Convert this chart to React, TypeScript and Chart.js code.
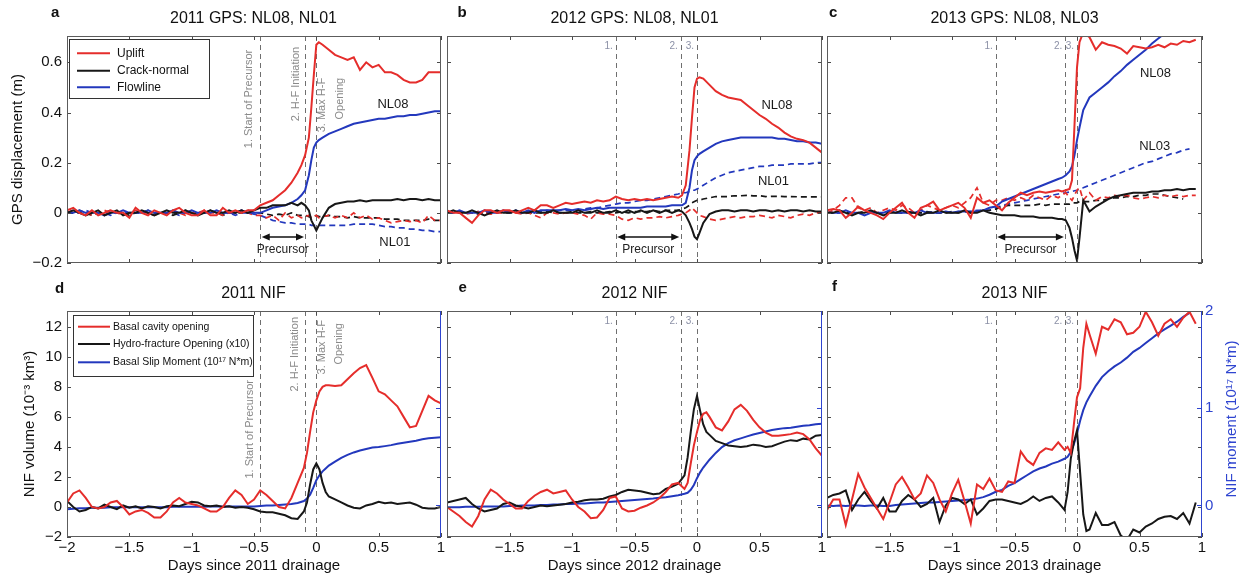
import React, { useEffect, useRef } from 'react';
import { Chart, registerables } from 'chart.js';

Chart.register(...registerables);

const FONT = '"Liberation Sans", Arial, Helvetica, sans-serif';
Chart.defaults.font.family = FONT;

const RED = '#e52d2b';
const BLACK = '#171717';
const BLUE = '#2338bd';
const AXIS_BLUE = '#2f45d0';
const EVENT_GRAY = '#6f6f6f';
const TAG_GRAY = '#8b90a6';
const NOTE_GRAY = '#8a8a8a';
const FRAME = '#5c5c5c';

// ---------- ticks ----------
const X_TICKS = [-2, -1.5, -1, -0.5, 0, 0.5, 1];
const X_LABELS = ['−2', '−1.5', '−1', '−0.5', '0', '0.5', '1'];
const X_LABELS_NO_FIRST = ['', '−1.5', '−1', '−0.5', '0', '0.5', '1'];
const Y_TICKS_GPS = [-0.2, 0, 0.2, 0.4, 0.6];
const Y_LABELS_GPS = ['−0.2', '0', '0.2', '0.4', '0.6'];
const Y_TICKS_NIF = [-2, 0, 2, 4, 6, 8, 10, 12];
const Y_LABELS_NIF = ['−2', '0', '2', '4', '6', '8', '10', '12'];
const Y2_TICKS = [0, 1, 2];
const Y2_LABELS = ['0', '1', '2'];

// ---------- event times (days) ----------
const EVENTS_2011 = [-0.45, -0.087, 0];
const EVENTS_2012 = [-0.65, -0.13, 0];
const EVENTS_2013 = [-0.65, -0.093, 0];
const EVENT_TAGS = ['1.', '2.', '3.'];

// ---------- time grids ----------
const T_GPS = [
  -2, -1.95, -1.9, -1.85, -1.8, -1.75, -1.7, -1.65, -1.6, -1.55,
  -1.5, -1.45, -1.4, -1.35, -1.3, -1.25, -1.2, -1.15, -1.1, -1.05,
  -1, -0.95, -0.9, -0.85, -0.8, -0.75, -0.7, -0.65, -0.6, -0.55, -0.5,
  -0.45, -0.4, -0.35, -0.3, -0.25, -0.2, -0.15,
  -0.12, -0.09, -0.06, -0.04, -0.02, 0,
  0.02, 0.05, 0.1,
  0.15, 0.2, 0.25, 0.3, 0.35, 0.4, 0.45, 0.5, 0.55, 0.6, 0.65, 0.7, 0.75, 0.8, 0.85, 0.9, 0.95, 1,
];
const T_NIF = [
  -2, -1.95, -1.9, -1.85, -1.8, -1.75, -1.7, -1.65, -1.6, -1.55,
  -1.5, -1.45, -1.4, -1.35, -1.3, -1.25, -1.2, -1.15, -1.1, -1.05,
  -1, -0.95, -0.9, -0.85, -0.8, -0.75, -0.7, -0.65, -0.6, -0.55, -0.5,
  -0.45, -0.4, -0.35, -0.3, -0.25, -0.2, -0.15, -0.1,
  -0.075, -0.05, -0.025, 0, 0.025, 0.05, 0.075, 0.1,
  0.15, 0.2, 0.25, 0.3, 0.35, 0.4, 0.45, 0.5, 0.55, 0.6, 0.65, 0.7, 0.75, 0.8, 0.85, 0.9, 0.95, 1,
];

// ---------- 2011 GPS (m) ----------
const A_UPLIFT_NL08 = [
  0.01, 0.02, 0.0, -0.01, 0.01, -0.01, 0.0, 0.01, 0.0, 0.0,
  -0.02, 0.02, 0.0, -0.01, 0.01, 0.0, -0.01, 0.01, 0.02, 0.0,
  -0.01, -0.01, 0.01, -0.01, -0.01, 0.02, 0.0, 0.01, 0.0, 0.01, 0.01,
  0.03, 0.04, 0.05, 0.07, 0.09, 0.12, 0.16,
  0.19, 0.23, 0.3, 0.42, 0.55, 0.67,
  0.68, 0.67, 0.65,
  0.63, 0.62, 0.61, 0.62, 0.57, 0.6, 0.58, 0.59, 0.56, 0.56, 0.55, 0.53, 0.52, 0.52, 0.53, 0.56, 0.56, 0.56,
];
const A_CRACK_NL08 = [
  0.0, 0.01, 0.0, -0.01, 0.0, 0.01, -0.01, 0.0, 0.01, -0.01,
  0.0, 0.0, 0.01, 0.0, -0.01, 0.0, 0.01, 0.0, 0.0, 0.01,
  0.0, -0.01, 0.0, 0.01, 0.0, 0.0, 0.01, 0.0, 0.01, 0.0, 0.01,
  0.02, 0.02, 0.03, 0.03, 0.03, 0.04, 0.03,
  0.04, 0.03, 0.01, -0.03, -0.05, -0.07,
  -0.05, -0.02, 0.02,
  0.035, 0.04, 0.045, 0.045, 0.05, 0.045, 0.05, 0.05, 0.05, 0.05, 0.055, 0.05, 0.055, 0.055, 0.05, 0.055, 0.05, 0.05,
];
const A_FLOW_NL08 = [
  0.0, 0.0, 0.01, 0.0, 0.0, 0.0, -0.01, 0.0, 0.0, 0.01,
  0.0, 0.0, 0.0, 0.01, 0.0, 0.0, 0.0, 0.01, 0.0, 0.0,
  0.01, 0.0, 0.0, 0.0, 0.01, 0.0, 0.0, 0.0, 0.01, 0.0, 0.0,
  0.0, 0.01, 0.02, 0.025, 0.03, 0.04, 0.055,
  0.07, 0.09, 0.15, 0.21, 0.26, 0.28,
  0.29, 0.3, 0.315,
  0.325, 0.335, 0.345, 0.355, 0.36, 0.365, 0.37, 0.375, 0.375, 0.38, 0.385, 0.385, 0.39, 0.39, 0.395, 0.4, 0.405, 0.405,
];
const A_UPLIFT_NL01 = [
  0.0, 0.01, 0.0, 0.0, -0.01, 0.0, 0.01, 0.0, 0.0, -0.01,
  0.0, 0.01, 0.0, 0.0, -0.01, 0.0, 0.0, 0.01, 0.0, -0.01,
  0.0, 0.0, 0.01, 0.0, 0.0, -0.01, 0.0, 0.0, 0.01, 0.0, -0.01,
  -0.01, -0.02, -0.01, -0.03, 0.0, -0.02, -0.01,
  -0.02, -0.015, -0.01, -0.02, -0.015, -0.01,
  -0.02, -0.015, -0.01,
  -0.02, -0.01, -0.02, 0.0, -0.02, -0.01, -0.025, -0.02, -0.03, -0.04, -0.035, -0.03, -0.035, -0.03, -0.04, -0.01, -0.03, -0.03,
];
const A_CRACK_NL01 = [
  0.0, 0.0, 0.01, 0.0, -0.01, 0.0, 0.0, 0.01, 0.0, 0.0,
  -0.01, 0.0, 0.0, 0.01, 0.0, 0.0, 0.0, -0.01, 0.0, 0.01,
  0.0, 0.0, 0.0, 0.01, 0.0, -0.01, 0.0, 0.0, 0.0, 0.01, 0.0,
  0.0, -0.005, -0.01, -0.005, -0.01, 0.0, -0.01,
  -0.01, -0.01, -0.015, -0.02, -0.015, -0.01,
  -0.015, -0.015, -0.01,
  -0.015, -0.015, -0.02, -0.015, -0.02, -0.02, -0.02, -0.02, -0.025, -0.025, -0.025, -0.03, -0.03, -0.03, -0.03, -0.025, -0.03, -0.03,
];
const A_FLOW_NL01 = [
  0.0, 0.0, 0.0, 0.01, 0.0, 0.0, 0.0, -0.01, 0.0, 0.0,
  0.0, 0.0, 0.01, 0.0, 0.0, 0.0, 0.0, 0.0, -0.01, 0.0,
  0.0, 0.0, 0.0, 0.01, 0.0, 0.0, 0.0, -0.01, 0.0, 0.0, -0.005,
  -0.01, -0.02, -0.03, -0.035, -0.04, -0.04, -0.045,
  -0.045, -0.045, -0.045, -0.05, -0.05, -0.05,
  -0.05, -0.05, -0.05,
  -0.05, -0.05, -0.05, -0.045, -0.045, -0.045, -0.045, -0.05, -0.055, -0.055, -0.06, -0.06, -0.065, -0.065, -0.07, -0.07, -0.075, -0.075,
];

// ---------- 2012 GPS (m) ----------
const B_UPLIFT_NL08 = [
  0.01, 0.0, 0.0, -0.02, -0.04, -0.01, 0.01, 0.01, 0.0, 0.01,
  0.01, 0.0, 0.01, 0.02, 0.01, 0.03, 0.03, 0.02, 0.03, 0.04,
  0.035, 0.04, 0.045, 0.04, 0.05, 0.045, 0.05, 0.065, 0.055, 0.05, 0.055,
  0.05, 0.055, 0.05, 0.055, 0.06, 0.065, 0.06,
  0.07, 0.11, 0.25, 0.38, 0.5, 0.535,
  0.54, 0.535, 0.51,
  0.485, 0.47, 0.46, 0.455, 0.45, 0.43, 0.41, 0.39, 0.375, 0.355, 0.34, 0.32, 0.305, 0.295, 0.29, 0.28, 0.26, 0.24,
];
const B_CRACK_NL08 = [
  0.0, 0.01, 0.0, 0.0, 0.01, 0.0, -0.01, 0.0, 0.01, 0.0,
  0.0, 0.01, 0.0, 0.0, 0.01, 0.0, 0.0, 0.01, 0.0, 0.0,
  0.0, 0.01, 0.0, 0.0, 0.01, 0.0, 0.0, 0.01, 0.0, 0.01, 0.0,
  0.01, 0.0, 0.01, 0.0, 0.01, 0.0, 0.01,
  0.005, -0.01, -0.04, -0.065, -0.095, -0.105,
  -0.08, -0.04, -0.005,
  0.005, 0.01, 0.01, 0.005, 0.01, 0.01, 0.005, 0.01, 0.01, 0.005, 0.01, 0.005, 0.01, 0.01, 0.005, 0.01, 0.005, 0.005,
];
const B_FLOW_NL08 = [
  0.0, 0.0, 0.01, 0.0, 0.0, 0.0, 0.01, 0.0, 0.0, 0.01,
  0.0, 0.01, 0.0, 0.01, 0.0, 0.01, 0.01, 0.01, 0.01, 0.015,
  0.01, 0.015, 0.01, 0.015, 0.02, 0.015, 0.02, 0.02, 0.02, 0.02, 0.02,
  0.02, 0.025, 0.025, 0.025, 0.025, 0.03, 0.03,
  0.03, 0.04, 0.1, 0.17, 0.21, 0.225,
  0.235, 0.245, 0.26,
  0.275, 0.285, 0.29, 0.295, 0.3, 0.3, 0.3, 0.3, 0.3, 0.3, 0.295, 0.295, 0.29, 0.285, 0.285, 0.28, 0.28, 0.275,
];
const B_UPLIFT_NL01 = [
  0.0, 0.005, 0.0, -0.005, 0.0, 0.005, 0.0, -0.005, 0.0, 0.0,
  0.005, 0.0, -0.005, 0.0, -0.01, -0.02, 0.0, 0.0, -0.005, 0.0,
  0.0, -0.005, -0.01, -0.025, 0.0, -0.005, -0.005, -0.01, -0.025, -0.03, -0.02,
  -0.025, -0.02, -0.02, -0.015, -0.02, -0.015, -0.01,
  -0.005, 0.0, 0.01, 0.02, 0.01, 0.0,
  -0.01, -0.015, -0.025,
  -0.03, -0.025, -0.02, -0.015, -0.02, -0.015, -0.015, -0.01, -0.015, -0.02, -0.01, -0.015, -0.02, -0.01, -0.005, -0.01, 0.0, 0.0,
];
const B_CRACK_NL01 = [
  0.0, 0.0, 0.005, 0.0, 0.0, -0.005, 0.0, 0.0, 0.005, 0.0,
  0.0, 0.0, 0.005, 0.0, 0.0, 0.0, 0.005, 0.0, 0.0, 0.0,
  0.005, 0.0, 0.0, 0.005, 0.0, 0.0, 0.005, 0.0, 0.005, 0.0, 0.005,
  0.005, 0.005, 0.01, 0.005, 0.01, 0.01, 0.01,
  0.015, 0.02, 0.03, 0.04, 0.045, 0.05,
  0.05, 0.055, 0.06,
  0.065, 0.065, 0.065, 0.068, 0.068, 0.07, 0.068, 0.068, 0.065, 0.066, 0.066, 0.065, 0.065, 0.064, 0.064, 0.064, 0.064, 0.064,
];
const B_FLOW_NL01 = [
  0.0, 0.0, 0.005, 0.0, 0.0, 0.005, 0.0, 0.005, 0.0, 0.005,
  0.005, 0.0, 0.005, 0.005, 0.005, 0.005, 0.01, 0.005, 0.01, 0.01,
  0.01, 0.01, 0.015, 0.02, 0.02, 0.025, 0.03, 0.035, 0.04, 0.04, 0.045,
  0.05, 0.05, 0.055, 0.06, 0.065, 0.07, 0.075,
  0.08, 0.08, 0.085, 0.09, 0.09, 0.095,
  0.1, 0.11, 0.125,
  0.14, 0.15, 0.16, 0.165, 0.17, 0.175, 0.18, 0.185, 0.185, 0.19, 0.19, 0.19, 0.195, 0.195, 0.195, 0.195, 0.2, 0.2,
];

// ---------- 2013 GPS (m) ----------
const C_UPLIFT_NL08 = [
  0.01, 0.015, 0.01, -0.02, 0.0, 0.025, 0.01, 0.0, -0.01, -0.025,
  0.0, 0.02, 0.04, 0.0, -0.02, 0.02, 0.03, 0.045, 0.01, 0.02,
  0.03, 0.04, 0.02, -0.02, 0.06, 0.04, 0.05, 0.03, 0.01, 0.04, 0.06,
  0.08, 0.07, 0.08, 0.085, 0.08, 0.085, 0.09,
  0.085, 0.09, 0.095, 0.13, 0.35, 0.58,
  0.68, 0.72, 0.7,
  0.65, 0.68, 0.67, 0.665, 0.655, 0.635, 0.665, 0.66, 0.655, 0.66, 0.67, 0.66, 0.675, 0.67, 0.685, 0.68, 0.69, null,
];
const C_CRACK_NL08 = [
  0.0, 0.0, 0.01, 0.0, -0.01, 0.0, 0.0, 0.01, 0.0, -0.01,
  0.0, 0.0, 0.01, 0.0, 0.0, -0.01, 0.0, 0.0, 0.01, 0.0,
  0.0, 0.0, 0.01, 0.0, 0.0, 0.01, 0.0, -0.005, -0.01, -0.01, -0.01,
  -0.015, -0.015, -0.015, -0.02, -0.02, -0.02, -0.025,
  -0.025, -0.03, -0.06, -0.1, -0.15, -0.19,
  -0.1, 0.05, 0.005,
  0.025, 0.04, 0.055, 0.065, 0.07, 0.075, 0.08, 0.08, 0.08, 0.085, 0.085, 0.09, 0.09, 0.095, 0.09, 0.095, 0.095, null,
];
const C_FLOW_NL08 = [
  0.0, 0.0, 0.0, 0.01, 0.0, 0.0, -0.01, 0.0, 0.0, 0.0,
  0.01, 0.0, 0.0, 0.0, 0.0, 0.01, 0.0, 0.0, 0.0, 0.005,
  0.0, 0.005, 0.005, 0.005, 0.005, 0.01, 0.02, 0.025, 0.045, 0.055, 0.065,
  0.075, 0.085, 0.095, 0.105, 0.115, 0.125, 0.135,
  0.14, 0.15, 0.165, 0.185, 0.23, 0.29,
  0.34, 0.41, 0.46,
  0.48, 0.5, 0.52, 0.545, 0.565, 0.59, 0.61, 0.63, 0.65, 0.675, 0.695, 0.715, 0.73, 0.75, null, null, null, null,
];
const C_UPLIFT_NL03 = [
  0.0, 0.01, 0.03, 0.06, 0.06, 0.02, 0.01, 0.02, 0.0, 0.01,
  0.02, 0.01, 0.03, 0.02, 0.0, 0.01, 0.03, 0.02, 0.01, 0.02,
  0.03, 0.02, 0.04, 0.06, 0.1, 0.04, 0.03, 0.05, 0.05, 0.06, 0.05,
  0.06, 0.05, 0.07, 0.06, 0.05, 0.07, 0.06,
  0.07, 0.08, 0.06, 0.05, 0.07, 0.09,
  0.1, 0.05, 0.08,
  0.05, 0.065, 0.06, 0.07, 0.065, 0.07, 0.06, 0.055, 0.06, 0.065, 0.06, 0.07, 0.065, 0.07, 0.065, 0.07, 0.07, null,
];
const C_CRACK_NL03 = [
  0.0, 0.0, 0.005, 0.0, 0.0, 0.0, 0.005, 0.0, 0.0, 0.0,
  0.005, 0.0, 0.0, 0.005, 0.0, 0.0, 0.005, 0.0, 0.0, 0.0,
  0.005, 0.0, 0.005, 0.0, 0.005, 0.01, 0.01, 0.015, 0.025, 0.03, 0.03,
  0.03, 0.03, 0.03, 0.035, 0.03, 0.035, 0.035,
  0.035, 0.035, 0.035, 0.04, 0.04, 0.04,
  0.045, 0.045, 0.045,
  0.05, 0.05, 0.055, 0.06, 0.06, 0.065, 0.065, 0.07, 0.07, 0.075, 0.075, 0.07, 0.065, 0.06, 0.055, null, null, null,
];
const C_FLOW_NL03 = [
  0.0, 0.0, 0.0, 0.005, 0.0, 0.0, 0.0, 0.005, 0.0, 0.0,
  0.0, 0.005, 0.0, 0.0, 0.005, 0.0, 0.0, 0.005, 0.0, 0.005,
  0.0, 0.005, 0.005, 0.005, 0.01, 0.01, 0.01, 0.02, 0.03, 0.035, 0.04,
  0.045, 0.05, 0.055, 0.06, 0.065, 0.07, 0.075,
  0.078, 0.08, 0.083, 0.085, 0.088, 0.09,
  0.095, 0.1, 0.11,
  0.12, 0.13, 0.14, 0.15, 0.16, 0.17, 0.18, 0.19, 0.2, 0.205, 0.215, 0.225, 0.235, 0.24, 0.25, 0.255, null, null,
];

// ---------- NIF (10^-3 km^3, HF x10) and slip moment (10^17 N m) ----------
const D_CAVITY = [
  0.3, 0.9, 1.1, 0.6, 0.0, -0.1, 0.0, 0.3, 0.4, 0.0,
  -0.5, -0.3, -0.2, -0.4, -0.7, -0.7, -0.3, 0.3, 0.6, 0.3,
  0.2, 0.1, -0.1, -0.3, -0.3, 0.0, 0.6, 1.1, 0.8, 0.2, 0.5,
  1.1, 0.8, 0.4, 0.0, -0.1, 0.6, 1.6, 2.6,
  3.6, 5.0, 6.3, 7.1, 7.7, 8.0, 8.1, 8.1,
  8.05, 8.1, 8.5, 8.9, 9.25, 9.45, 8.6, 7.7, 7.5, 7.1, 6.7, 6.0, 5.3, 5.4, 6.4, 7.4, 7.1, 6.9,
];
const D_HYDRO = [
  0.4, 0.0, -0.3, -0.2, 0.0, -0.1, 0.15, 0.0, -0.15, 0.1,
  -0.05, 0.05, -0.1, 0.05, 0.0, -0.1, 0.05, 0.1, 0.05, 0.2,
  0.35, 0.3, 0.1, 0.05, 0.1, 0.0, 0.05, -0.05, 0.0, -0.05, -0.15,
  -0.3, -0.35, -0.35, -0.45, -0.55, -0.75, -0.8, -0.3,
  0.3, 1.5, 2.5, 2.9, 2.5, 1.6, 1.0, 0.7,
  0.5, 0.3, 0.1, -0.05, -0.1, 0.1, 0.2, 0.35, 0.25, 0.3, 0.2, 0.25, 0.3, 0.15, -0.05, -0.1, -0.1, 0.0,
];
const D_MOMENT = [
  -0.04, -0.035, -0.03, -0.03, -0.025, -0.025, -0.025, -0.02, -0.02, -0.02,
  -0.02, -0.02, -0.02, -0.02, -0.02, -0.02, -0.02, -0.015, -0.015, -0.015,
  -0.015, -0.015, -0.015, -0.01, -0.01, -0.01, -0.01, -0.01, -0.01, -0.01, -0.01,
  -0.005, 0.0, 0.0, 0.005, 0.01, 0.015, 0.025, 0.045,
  0.07, 0.11, 0.18, 0.26, 0.31, 0.35, 0.38, 0.41,
  0.45, 0.49, 0.52, 0.545, 0.565, 0.58, 0.595, 0.6, 0.61, 0.62, 0.635, 0.645, 0.655, 0.665, 0.68, 0.69, 0.695, 0.7,
];
const E_CAVITY = [
  0.0, -0.3, -0.6, -1.0, -1.3, -0.6, 0.5, 1.15, 0.9, 0.5,
  0.2, -0.1, -0.1, 0.4, 0.75, 1.0, 1.15, 0.9, 1.0, 1.1,
  0.5, 0.0, -0.3, -0.75, -0.7, -0.2, 0.6, 0.7, -0.1, -0.3, -0.25,
  -0.05, 0.1, 0.3, 0.6, 1.0, 1.5, 1.6, 1.2,
  1.6, 2.9, 4.1, 5.0, 5.8, 6.2, 6.3, 6.0,
  5.3, 5.1, 5.7, 6.5, 6.8, 6.4, 5.8, 5.3, 4.95, 4.75, 4.75, 4.8, 4.85, 4.95, 4.85, 4.5, 3.9, 3.4,
];
const E_HYDRO = [
  0.3, 0.4, 0.5, 0.6, 0.2, -0.1, -0.3, -0.2, -0.1, 0.2,
  0.3, 0.1, 0.0, -0.1, 0.0, 0.1, 0.05, 0.1, 0.15, 0.2,
  0.3, 0.35, 0.45, 0.5, 0.5, 0.55, 0.7, 0.8, 1.0, 1.15, 1.1,
  1.05, 0.95, 0.85, 0.9, 1.2, 1.35, 1.55, 2.1,
  3.3, 5.0, 6.5, 7.4, 6.4, 5.5, 5.0, 4.8,
  4.4, 4.25, 4.1, 4.05, 4.0, 4.05, 4.15, 4.1, 4.0, 4.05, 4.2, 4.35, 4.45, 4.4, 4.55, 4.5, 4.75, 4.8,
];
const E_MOMENT = [
  -0.02, -0.02, -0.02, -0.015, -0.015, -0.015, -0.01, -0.01, -0.01, -0.01,
  -0.005, -0.005, 0.0, 0.0, 0.0, 0.005, 0.005, 0.01, 0.01, 0.015,
  0.015, 0.02, 0.02, 0.025, 0.03, 0.03, 0.035, 0.04, 0.045, 0.05, 0.055,
  0.06, 0.065, 0.07, 0.08, 0.085, 0.095, 0.105, 0.12,
  0.13, 0.16, 0.21, 0.28, 0.34, 0.39, 0.43, 0.47,
  0.54, 0.6, 0.64, 0.67, 0.69, 0.71, 0.73, 0.745, 0.76, 0.775, 0.785, 0.795, 0.8, 0.81, 0.82, 0.825, 0.835, 0.84,
];
const F_CAVITY = [
  -0.2, 0.5, 0.5, -1.2, 0.5, 2.2, 1.3, 0.6, -0.1, -0.8,
  0.3, 1.5, 2.0, 1.3, 0.5, 0.9, 2.1, 1.6, 0.5, -0.3,
  0.9, 1.8, 0.4, -1.1, 1.5, 1.2, 1.9, 1.1, 1.0, 1.7, 1.6,
  3.7, 3.1, 2.8, 3.6, 3.9, 3.8, 4.3, 3.8,
  4.0, 3.6, 5.5, 7.3, 7.9, 10.6, 12.2, 11.5,
  10.2, 12.0, 11.8, 12.5, 12.3, 11.5, 11.6, 12.0, 13.0, 12.3, 11.4, 12.2, 12.5, 12.0, 12.6, 13.0, 12.2, null,
];
const F_HYDRO = [
  0.6, 0.8, 0.9, 1.1, -0.2, 0.5, 1.0, 0.4, -0.1, 0.6,
  -0.3, -0.3, 0.4, 0.8, 0.5, 0.0, 0.2, 0.6, -1.0, 0.1,
  0.6, 0.5, 0.2, 0.5, -0.5, -0.1, 0.4, 0.5, 0.5, 0.4, 0.3,
  0.2, 0.4, 0.7, 0.4, 0.6, 0.7, 0.3, -0.2,
  1.0, 3.2, 4.3, 5.1, 2.3, -0.5, -1.6, -1.5,
  -0.4, -1.2, -1.2, -1.0, -1.9, -2.2, -1.5, -1.7, -1.3, -1.1, -0.8, -0.65, -0.6, -0.8, -0.4, -1.1, 0.3, null,
];
const F_MOMENT = [
  0.0, -0.005, 0.0, -0.005, 0.0, 0.0, -0.005, 0.0, 0.0, -0.005,
  -0.005, 0.005, 0.01, 0.015, 0.02, 0.025, 0.03, 0.03, 0.035, 0.04,
  0.045, 0.05, 0.055, 0.06, 0.07, 0.085, 0.11, 0.14, 0.16, 0.2, 0.23,
  0.27, 0.31, 0.35, 0.38, 0.4, 0.43, 0.45, 0.48,
  0.5, 0.55, 0.63, 0.74, 0.87, 0.98, 1.06, 1.12,
  1.23, 1.32, 1.38, 1.43, 1.47, 1.52, 1.58, 1.62, 1.67, 1.72, 1.77, 1.81, 1.85, 1.89, 1.94, 1.98, null, null,
];

// ---------- panel definitions ----------
const gpsSeries = (u: any, c: any, f: any, u2: any, c2: any, f2: any, st: string) => [
  { label: 'Uplift', ys: u, color: RED },
  { label: 'Crack-normal', ys: c, color: BLACK },
  { label: 'Flowline', ys: f, color: BLUE },
  { label: 'Uplift ' + st, ys: u2, color: RED, dashed: true },
  { label: 'Crack-normal ' + st, ys: c2, color: BLACK, dashed: true },
  { label: 'Flowline ' + st, ys: f2, color: BLUE, dashed: true },
];
const nifSeries = (cav: any, hf: any, mom: any) => [
  { label: 'Basal cavity opening', ys: cav, color: RED },
  { label: 'Hydro-fracture Opening (x10)', ys: hf, color: BLACK },
  { label: 'Basal Slip Moment (10¹⁷ N*m)', ys: mom, color: BLUE, axis: 'y2' },
];

const PRECURSOR = { arrowY: -0.096, textY: -0.146 };
const NIF_Y2 = { min: -0.325, max: 2.0, ticks: Y2_TICKS, labels: null as any };

const PANELS: any[] = [
  {
    key: 'a', area: [67, 36, 441, 263], pad: [67, 36, 20, 20], xs: T_GPS,
    series: gpsSeries(A_UPLIFT_NL08, A_CRACK_NL08, A_FLOW_NL08, A_UPLIFT_NL01, A_CRACK_NL01, A_FLOW_NL01, 'NL01'),
    yMin: -0.2, yMax: 0.705, yTicks: Y_TICKS_GPS, yLabels: Y_LABELS_GPS,
    yTitle: 'GPS displacement (m)', yTitlePad: 9, xLabels: null,
    events: EVENTS_2011, eventTags: null, precursor: PRECURSOR,
    notes: [
      { x: -0.54, y: 0.65, text: '1. Start of Precursor', size: 11, color: NOTE_GRAY, rot: true },
      { x: -0.165, y: 0.662, text: '2. H-F Initiation', size: 11, color: NOTE_GRAY, rot: true },
      { x: 0.043, y: 0.538, text: '3. Max H-F', size: 11, color: NOTE_GRAY, rot: true },
      { x: 0.19, y: 0.538, text: 'Opening', size: 11, color: NOTE_GRAY, rot: true },
      { x: 0.615, y: 0.431, text: 'NL08', size: 13, color: '#1a1a1a' },
      { x: 0.63, y: -0.118, text: 'NL01', size: 13, color: '#1a1a1a' },
    ],
    legend: { items: [0, 1, 2], box: [2, 3, 140, 59], rows: [17.3, 34.7, 51.3], lineX: [10, 43], textX: 50, size: 12 },
  },
  {
    key: 'b', area: [447, 36, 822, 263], pad: [20, 36, 20, 20], xs: T_GPS,
    series: gpsSeries(B_UPLIFT_NL08, B_CRACK_NL08, B_FLOW_NL08, B_UPLIFT_NL01, B_CRACK_NL01, B_FLOW_NL01, 'NL01'),
    yMin: -0.2, yMax: 0.705, yTicks: Y_TICKS_GPS, yLabels: null, xLabels: null,
    events: EVENTS_2012, eventTags: EVENT_TAGS, precursor: PRECURSOR,
    notes: [
      { x: 0.64, y: 0.428, text: 'NL08', size: 13, color: '#1a1a1a' },
      { x: 0.612, y: 0.126, text: 'NL01', size: 13, color: '#1a1a1a' },
    ],
  },
  {
    key: 'c', area: [827, 36, 1202, 263], pad: [20, 36, 41, 20], xs: T_GPS,
    series: gpsSeries(C_UPLIFT_NL08, C_CRACK_NL08, C_FLOW_NL08, C_UPLIFT_NL03, C_CRACK_NL03, C_FLOW_NL03, 'NL03'),
    yMin: -0.2, yMax: 0.705, yTicks: Y_TICKS_GPS, yLabels: null, xLabels: null,
    events: EVENTS_2013, eventTags: EVENT_TAGS, precursor: PRECURSOR,
    notes: [
      { x: 0.628, y: 0.555, text: 'NL08', size: 13, color: '#1a1a1a' },
      { x: 0.622, y: 0.265, text: 'NL03', size: 13, color: '#1a1a1a' },
    ],
  },
  {
    key: 'd', area: [67, 311, 441, 537], pad: [67, 38, 20, 42], xs: T_NIF,
    series: nifSeries(D_CAVITY, D_HYDRO, D_MOMENT),
    yMin: -2, yMax: 13.05, yTicks: Y_TICKS_NIF, yLabels: Y_LABELS_NIF,
    yTitle: 'NIF volume (10⁻³ km³)', yTitlePad: 21,
    y2: NIF_Y2, rightFrame: AXIS_BLUE,
    xLabels: X_LABELS, xTitle: 'Days since 2011 drainage',
    events: EVENTS_2011, eventTags: null,
    notes: [
      { x: -0.535, y: 8.45, text: '1. Start of Precursor', size: 11, color: NOTE_GRAY, rot: true },
      { x: -0.17, y: 12.65, text: '2. H-F Initiation', size: 11, color: NOTE_GRAY, rot: true },
      { x: 0.043, y: 12.45, text: '3. Max H-F', size: 11, color: NOTE_GRAY, rot: true },
      { x: 0.184, y: 12.25, text: 'Opening', size: 11, color: NOTE_GRAY, rot: true },
    ],
    legend: { items: [0, 1, 2], box: [6, 4, 180, 61], rows: [15.7, 33, 51.3], lineX: [11, 43], textX: 46, size: 10.5 },
  },
  {
    key: 'e', area: [447, 311, 822, 537], pad: [20, 38, 20, 42], xs: T_NIF,
    series: nifSeries(E_CAVITY, E_HYDRO, E_MOMENT),
    yMin: -2, yMax: 13.05, yTicks: Y_TICKS_NIF, yLabels: null,
    y2: NIF_Y2, rightFrame: AXIS_BLUE,
    xLabels: X_LABELS_NO_FIRST, xTitle: 'Days since 2012 drainage',
    events: EVENTS_2012, eventTags: EVENT_TAGS, notes: [],
  },
  {
    key: 'f', area: [827, 311, 1202, 537], pad: [20, 38, 41, 42], xs: T_NIF,
    series: nifSeries(F_CAVITY, F_HYDRO, F_MOMENT),
    yMin: -2, yMax: 13.05, yTicks: Y_TICKS_NIF, yLabels: null,
    y2: { min: -0.325, max: 2.0, ticks: Y2_TICKS, labels: Y2_LABELS }, rightFrame: AXIS_BLUE,
    rightTitle: { text: 'NIF moment (10¹⁷ N*m)', dx: 29.7, dy: -5, color: AXIS_BLUE, size: 15 },
    xLabels: X_LABELS_NO_FIRST, xTitle: 'Days since 2013 drainage',
    events: EVENTS_2013, eventTags: EVENT_TAGS, notes: [],
  },
];

const TITLES = [
  { text: '2011 GPS: NL08, NL01', cx: 253.5, cy: 18.3 },
  { text: '2012 GPS: NL08, NL01', cx: 634.5, cy: 18.3 },
  { text: '2013 GPS: NL08, NL03', cx: 1014.5, cy: 18.3 },
  { text: '2011 NIF', cx: 253.5, cy: 293 },
  { text: '2012 NIF', cx: 634.5, cy: 293 },
  { text: '2013 NIF', cx: 1014.5, cy: 293 },
];
const LETTERS = [
  { text: 'a', x: 51, y: 4 },
  { text: 'b', x: 457.5, y: 4 },
  { text: 'c', x: 829, y: 3.5 },
  { text: 'd', x: 55, y: 280 },
  { text: 'e', x: 458.5, y: 278.5 },
  { text: 'f', x: 832, y: 277.5 },
];

// ---------- drawing helpers ----------
function makeDecor(p: any) {
  return {
    id: 'decor_' + p.key,
    beforeDatasetsDraw(chart: any) {
      const { ctx, chartArea: A, scales } = chart;
      ctx.save();
      ctx.strokeStyle = EVENT_GRAY;
      ctx.lineWidth = 1;
      ctx.setLineDash([5, 4]);
      p.events.forEach((e: number) => {
        const px = Math.round(scales.x.getPixelForValue(e)) + 0.5;
        ctx.beginPath();
        ctx.moveTo(px, A.top);
        ctx.lineTo(px, A.bottom);
        ctx.stroke();
      });
      ctx.restore();
    },
    afterDatasetsDraw(chart: any) {
      const { ctx, chartArea: A, scales } = chart;
      const X = (v: number) => scales.x.getPixelForValue(v);
      const Y = (v: number) => scales.y.getPixelForValue(v);
      const seg = (x1: number, y1: number, x2: number, y2: number) => {
        ctx.beginPath();
        ctx.moveTo(x1, y1);
        ctx.lineTo(x2, y2);
        ctx.stroke();
      };
      ctx.save();
      ctx.setLineDash([]);
      // inward tick marks
      ctx.strokeStyle = '#4a4a4a';
      ctx.lineWidth = 1;
      X_TICKS.forEach((v) => {
        const px = Math.round(X(v)) + 0.5;
        seg(px, A.bottom, px, A.bottom - 4);
        seg(px, A.top, px, A.top + 4);
      });
      p.yTicks.forEach((v: number) => {
        const py = Math.round(Y(v)) + 0.5;
        seg(A.left, py, A.left + 4, py);
        seg(A.right, py, A.right - 4, py);
      });
      if (p.y2) {
        ctx.strokeStyle = AXIS_BLUE;
        p.y2.ticks.forEach((v: number) => {
          const py = Math.round(scales.y2.getPixelForValue(v)) + 0.5;
          seg(A.right, py, A.right - 5, py);
        });
      }
      // frame
      ctx.strokeStyle = FRAME;
      ctx.lineWidth = 1;
      ctx.strokeRect(A.left + 0.5, A.top + 0.5, A.right - A.left - 1, A.bottom - A.top - 1);
      if (p.rightFrame) {
        ctx.strokeStyle = p.rightFrame;
        seg(A.right - 0.5, A.top, A.right - 0.5, A.bottom);
      }
      // short event tags
      if (p.eventTags) {
        ctx.font = `10px ${FONT}`;
        ctx.fillStyle = TAG_GRAY;
        ctx.textAlign = 'right';
        ctx.textBaseline = 'middle';
        p.events.forEach((e: number, i: number) => ctx.fillText(p.eventTags[i], X(e) - 3, A.top + 10));
      }
      // precursor arrow
      if (p.precursor) {
        const x0 = X(p.events[0]) + 1.5;
        const x1 = X(p.events[1]) - 1.5;
        const py = Y(p.precursor.arrowY);
        ctx.strokeStyle = '#111';
        ctx.fillStyle = '#111';
        ctx.lineWidth = 1.5;
        seg(x0 + 5, py, x1 - 5, py);
        ctx.beginPath();
        ctx.moveTo(x0, py);
        ctx.lineTo(x0 + 8, py - 3.5);
        ctx.lineTo(x0 + 8, py + 3.5);
        ctx.closePath();
        ctx.fill();
        ctx.beginPath();
        ctx.moveTo(x1, py);
        ctx.lineTo(x1 - 8, py - 3.5);
        ctx.lineTo(x1 - 8, py + 3.5);
        ctx.closePath();
        ctx.fill();
        ctx.font = `12px ${FONT}`;
        ctx.fillStyle = '#222';
        ctx.textAlign = 'center';
        ctx.textBaseline = 'middle';
        ctx.fillText('Precursor', (x0 + x1) / 2, Y(p.precursor.textY));
      }
      // notes
      p.notes.forEach((n: any) => {
        const px = X(n.x);
        const py = Y(n.y);
        ctx.font = `${n.size}px ${FONT}`;
        ctx.fillStyle = n.color;
        ctx.textBaseline = 'middle';
        if (n.rot) {
          ctx.save();
          ctx.translate(px, py);
          ctx.rotate(-Math.PI / 2);
          ctx.textAlign = 'right';
          ctx.fillText(n.text, 0, 0);
          ctx.restore();
        } else {
          ctx.textAlign = 'center';
          ctx.fillText(n.text, px, py);
        }
      });
      // legend
      if (p.legend) {
        const L = p.legend;
        const bx = A.left + L.box[0];
        const by = A.top + L.box[1];
        ctx.fillStyle = '#fff';
        ctx.fillRect(bx, by, L.box[2], L.box[3]);
        ctx.strokeStyle = '#333';
        ctx.lineWidth = 1;
        ctx.strokeRect(bx + 0.5, by + 0.5, L.box[2], L.box[3]);
        L.items.forEach((si: number, k: number) => {
          const s = p.series[si];
          const ry = A.top + L.rows[k];
          ctx.strokeStyle = s.color;
          ctx.lineWidth = 2;
          seg(A.left + L.lineX[0], ry, A.left + L.lineX[1], ry);
          ctx.fillStyle = '#111';
          ctx.font = `${L.size}px ${FONT}`;
          ctx.textAlign = 'left';
          ctx.textBaseline = 'middle';
          ctx.fillText(s.label, A.left + L.textX, ry);
        });
      }
      // right axis title (reads bottom-to-top)
      if (p.rightTitle) {
        const t = p.rightTitle;
        ctx.save();
        ctx.translate(A.right + t.dx, (A.top + A.bottom) / 2 + t.dy);
        ctx.rotate(-Math.PI / 2);
        ctx.font = `${t.size}px ${FONT}`;
        ctx.fillStyle = t.color;
        ctx.textAlign = 'center';
        ctx.textBaseline = 'middle';
        ctx.fillText(t.text, 0, 0);
        ctx.restore();
      }
      ctx.restore();
    },
  };
}

function buildConfig(p: any) {
  const [pl, pt, pr, pb] = p.pad;
  const tickFont = { family: FONT, size: 15 };
  const fixedTicks = (vals: number[]) => (scale: any) => {
    scale.ticks = vals.map((v) => ({ value: v }));
  };
  const datasets = p.series.map((s: any) => ({
    label: s.label,
    data: p.xs.map((x: number, i: number) => ({ x, y: s.ys[i] })),
    borderColor: s.color,
    backgroundColor: s.color,
    borderWidth: s.dashed ? 1.7 : 2,
    borderDash: s.dashed ? [6, 4] : [],
    pointRadius: 0,
    pointHoverRadius: 0,
    tension: 0,
    fill: false,
    spanGaps: false,
    xAxisID: 'x',
    yAxisID: s.axis || 'y',
  }));
  const y2 = p.y2 || { min: p.yMin, max: p.yMax, ticks: p.yTicks, labels: null };
  return {
    type: 'line',
    data: { datasets },
    options: {
      responsive: false,
      maintainAspectRatio: false,
      animation: false,
      devicePixelRatio: 1,
      events: [],
      layout: { padding: 0 },
      plugins: { legend: { display: false }, tooltip: { enabled: false }, title: { display: false } },
      scales: {
        x: {
          type: 'linear', position: 'bottom', min: -2, max: 1,
          afterBuildTicks: fixedTicks(X_TICKS),
          afterFit: (s: any) => { s.height = pb; },
          grid: { display: false, drawTicks: false },
          border: { display: false },
          ticks: {
            display: !!p.xLabels, autoSkip: false, maxRotation: 0, minRotation: 0, padding: 2,
            font: tickFont, color: '#111',
            callback: (_v: any, i: number) => (p.xLabels ? p.xLabels[i] : ''),
          },
          title: p.xTitle
            ? { display: true, text: p.xTitle, font: { family: FONT, size: 15 }, color: '#111', padding: { top: 0, bottom: 4 } }
            : { display: false },
        },
        x2: {
          type: 'linear', position: 'top', min: -2, max: 1,
          afterFit: (s: any) => { s.height = pt; },
          grid: { display: false, drawTicks: false },
          border: { display: false },
          ticks: { display: false },
        },
        y: {
          type: 'linear', position: 'left', min: p.yMin, max: p.yMax,
          afterBuildTicks: fixedTicks(p.yTicks),
          afterFit: (s: any) => { s.width = pl; },
          grid: { display: false, drawTicks: false },
          border: { display: false },
          ticks: {
            display: !!p.yLabels, autoSkip: false, padding: 5, font: tickFont, color: '#111',
            callback: (_v: any, i: number) => (p.yLabels ? p.yLabels[i] : ''),
          },
          title: p.yTitle
            ? { display: true, text: p.yTitle, font: { family: FONT, size: 15 }, color: '#111', padding: { top: p.yTitlePad, bottom: 0 } }
            : { display: false },
        },
        y2: {
          type: 'linear', position: 'right', min: y2.min, max: y2.max,
          afterBuildTicks: fixedTicks(y2.ticks),
          afterFit: (s: any) => { s.width = pr; },
          grid: { display: false, drawTicks: false },
          border: { display: false },
          ticks: {
            display: !!y2.labels, autoSkip: false, padding: 3, font: tickFont, color: AXIS_BLUE,
            callback: (_v: any, i: number) => (y2.labels ? y2.labels[i] : ''),
          },
        },
      },
    },
    plugins: [makeDecor(p)],
  };
}

function Panel({ p }: { p: any }) {
  const ref = useRef<HTMLCanvasElement | null>(null);
  const [l, t, r, b] = p.area;
  const [pl, pt, pr, pb] = p.pad;
  const w = r - l + pl + pr;
  const h = b - t + pt + pb;
  useEffect(() => {
    if (!ref.current) return;
    const chart = new Chart(ref.current, buildConfig(p) as any);
    return () => chart.destroy();
  }, [p]);
  return (
    <canvas
      ref={ref}
      width={w}
      height={h}
      style={{ position: 'absolute', left: l - pl, top: t - pt, width: w, height: h }}
    />
  );
}

export default function App() {
  return (
    <div
      style={{
        position: 'absolute', left: 0, top: 0, width: 1243, height: 579,
        background: '#fff', overflow: 'hidden', fontFamily: FONT,
      }}
    >
      {PANELS.map((p) => (
        <Panel key={p.key} p={p} />
      ))}
      {TITLES.map((t) => (
        <div
          key={t.text}
          style={{
            position: 'absolute', left: t.cx - 200, width: 400, top: t.cy - 8,
            textAlign: 'center', fontSize: 16, lineHeight: '16px', color: '#111', whiteSpace: 'nowrap',
          }}
        >
          {t.text}
        </div>
      ))}
      {LETTERS.map((t) => (
        <div
          key={t.text}
          style={{
            position: 'absolute', left: t.x, top: t.y, fontSize: 15, lineHeight: '15px',
            fontWeight: 'bold', color: '#111',
          }}
        >
          {t.text}
        </div>
      ))}
    </div>
  );
}
